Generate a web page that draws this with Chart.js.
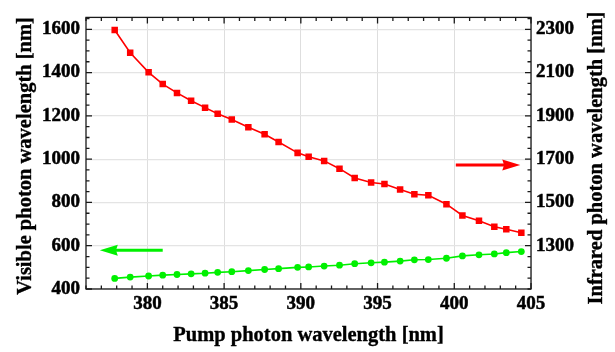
<!DOCTYPE html>
<html><head><meta charset="utf-8">
<script src="https://cdn.jsdelivr.net/npm/chart.js@4/dist/chart.umd.min.js"></script>
<style>html,body{margin:0;padding:0;background:#fff}</style>
</head><body>
<canvas id="c" width="615" height="352"></canvas>
<script>
// ---- data ----
const pumpWavelengths = [377.87, 378.88, 380.08, 381.0, 381.93, 382.85, 383.76, 384.58, 385.5, 386.58, 387.64, 388.55, 389.79, 390.51, 391.52, 392.52, 393.51, 394.58, 395.45, 396.47, 397.4, 398.31, 399.49, 400.53, 401.61, 402.61, 403.39, 404.37];
const infraredWavelengths = [2297, 2192, 2101, 2047, 2006, 1970, 1938, 1910, 1883, 1847, 1815, 1779, 1729, 1711, 1692, 1656, 1613, 1592, 1585, 1560, 1538, 1533, 1492, 1440, 1415, 1388, 1376, 1360];
const visibleWavelengths = [449, 455, 460, 464, 467, 470, 473, 477, 480, 485, 490, 494, 500, 502, 506, 510, 517, 521, 524, 529, 535, 536, 542, 553, 558, 562, 568, 573];
const pumpTicks = [380, 385, 390, 395, 400, 405];
const visibleTicks = [400, 600, 800, 1000, 1200, 1400, 1600];
const infraredTicks = [1300, 1500, 1700, 1900, 2100, 2300];
const xTitle = 'Pump photon wavelength [nm]';
const yLeftTitle = 'Visible photon wavelength [nm]';
const yRightTitle = 'Infrared photon wavelength [nm]';

const RED = '#ff0000';
const GREEN = '#00f000';
const tickFont = {family: '"Liberation Serif", serif', weight: 'bold', size: 19};
const titleFont = 'bold 20.5px "Liberation Serif", serif';

function pts(xs, ys) { return xs.map((x, i) => ({x: x, y: ys[i]})); }
function setTicks(arr) { return (scale) => { scale.ticks = arr.map(v => ({value: v})); }; }
const plain = (v) => String(v);

function drawArrow(ctx, x1, y1, x2, y2, color) {
  const dir = Math.sign(x2 - x1), head = 18, hw = 5.4;
  ctx.strokeStyle = color; ctx.lineWidth = 3;
  ctx.beginPath(); ctx.moveTo(x1, y1); ctx.lineTo(x2 - dir * head * 0.8, y2); ctx.stroke();
  ctx.fillStyle = color; ctx.beginPath();
  ctx.moveTo(x2, y2);
  ctx.lineTo(x2 - dir * head, y2 - hw);
  ctx.lineTo(x2 - dir * head * 0.9, y2);
  ctx.lineTo(x2 - dir * head, y2 + hw);
  ctx.closePath(); ctx.fill();
}

const framePlugin = {
  id: 'frame',
  afterDraw(chart) {
    const {ctx, chartArea: a} = chart;
    const x = chart.scales.x, y = chart.scales.y, y2 = chart.scales.y2;
    ctx.save();
    ctx.strokeStyle = '#1a1a1a'; ctx.lineWidth = 1.3;
    ctx.strokeRect(a.left, a.top, a.right - a.left, a.bottom - a.top);
    ctx.beginPath();
    const seg = (x1, y1, x2, y2_) => { ctx.moveTo(x1, y1); ctx.lineTo(x2, y2_); };
    for (let v = Math.ceil(x.min); v <= x.max; v++) {
      const px = x.getPixelForValue(v), L = pumpTicks.includes(v) ? 6 : 3.5;
      seg(px, a.bottom, px, a.bottom - L); seg(px, a.top, px, a.top + L);
    }
    for (let v = Math.ceil(y.min / 50) * 50; v <= y.max; v += 50) {
      const py = y.getPixelForValue(v), L = visibleTicks.includes(v) ? 6 : 3.5;
      seg(a.left, py, a.left + L, py);
    }
    for (let v = Math.ceil(y2.min / 50) * 50; v <= y2.max; v += 50) {
      const py = y2.getPixelForValue(v), L = infraredTicks.includes(v) ? 6 : 3.5;
      seg(a.right, py, a.right - L, py);
    }
    ctx.stroke();
    drawArrow(ctx, x.getPixelForValue(400.1), y2.getPixelForValue(1673), x.getPixelForValue(404.3), y2.getPixelForValue(1673), RED);
    drawArrow(ctx, x.getPixelForValue(381.0), y.getPixelForValue(579), x.getPixelForValue(376.9), y.getPixelForValue(579), GREEN);
    ctx.fillStyle = '#000'; ctx.strokeStyle = '#000'; ctx.lineWidth = 0.35;
    ctx.font = titleFont; ctx.textAlign = 'center'; ctx.textBaseline = 'alphabetic';
    const txt = (s, px, py) => { ctx.fillText(s, px, py); ctx.strokeText(s, px, py); };
    txt(xTitle, (a.left + a.right) / 2, 341);
    ctx.save(); ctx.translate(30.5, 156); ctx.rotate(-Math.PI / 2); txt(yLeftTitle, 0, 0); ctx.restore();
    ctx.save(); ctx.translate(601.5, 158); ctx.rotate(-Math.PI / 2); txt(yRightTitle, 0, 0); ctx.restore();
    ctx.restore();
  }
};

const tickOpts = (pad) => ({font: tickFont, color: '#000', padding: pad, callback: plain,
  textStrokeColor: '#000', textStrokeWidth: 0.5, maxRotation: 0});

new Chart(document.getElementById('c'), {
  type: 'line',
  data: {
    datasets: [
      {
        label: 'Infrared', data: pts(pumpWavelengths, infraredWavelengths), yAxisID: 'y2',
        borderColor: RED, backgroundColor: RED, borderWidth: 1.6,
        pointStyle: 'rect', pointRadius: 4.6, pointBorderWidth: 0, tension: 0
      },
      {
        label: 'Visible', data: pts(pumpWavelengths, visibleWavelengths), yAxisID: 'y',
        borderColor: GREEN, backgroundColor: GREEN, borderWidth: 1.6,
        pointStyle: 'circle', pointRadius: 3.4, pointBorderWidth: 0, tension: 0
      }
    ]
  },
  options: {
    responsive: false, animation: false,
    layout: {padding: {top: 15, left: 0, right: 0, bottom: 0}},
    plugins: {legend: {display: false}, tooltip: {enabled: false}},
    scales: {
      x: {
        type: 'linear', position: 'bottom', min: 376, max: 405,
        afterBuildTicks: setTicks(pumpTicks),
        afterFit: (s) => { s.height = 63; },
        ticks: tickOpts(4),
        grid: {color: '#dedede', lineWidth: 1, drawTicks: false},
        border: {display: false}
      },
      y: {
        type: 'linear', position: 'left', min: 400, max: 1655,
        afterBuildTicks: setTicks(visibleTicks),
        afterFit: (s) => { s.width = 86; },
        ticks: tickOpts(6),
        grid: {color: '#e4e4e4', lineWidth: 1.2, drawTicks: false},
        border: {display: false}
      },
      y2: {
        type: 'linear', position: 'right', min: 1100, max: 2355,
        afterBuildTicks: setTicks(infraredTicks),
        afterFit: (s) => { s.width = 84; },
        ticks: tickOpts(5),
        grid: {display: false, drawTicks: false},
        border: {display: false}
      }
    }
  },
  plugins: [framePlugin]
});
</script>
</body></html>
